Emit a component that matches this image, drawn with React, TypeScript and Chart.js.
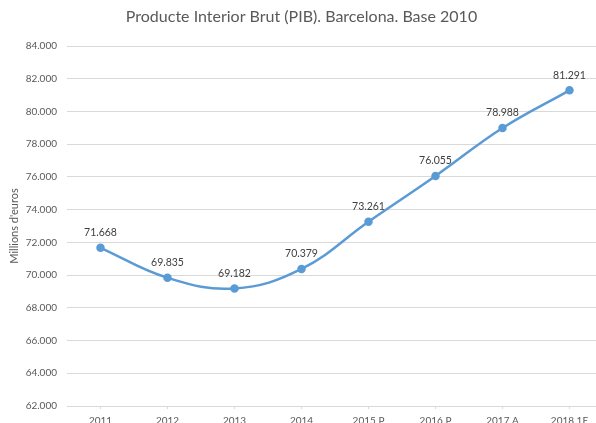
import React, { useEffect, useRef } from "react";
import { Chart, registerables } from "chart.js";

Chart.register(...registerables);

const categories = ["2011", "2012", "2013", "2014", "2015 P", "2016 P", "2017 A", "2018 1E"];
const pibValues = [71668, 69835, 69182, 70379, 73261, 76055, 78988, 81291];
const yMin = 62000;
const yMax = 84000;
const yStep = 2000;

const fmt = (v: number) => {
  const s = Math.round(v).toString();
  return s.replace(/\B(?=(\d{3})+(?!\d))/g, ".");
};

const FONT = "Lato, 'Open Sans', sans-serif";

const labelPlugin = {
  id: "pointLabels",
  afterDatasetsDraw(chart: any) {
    const ctx = chart.ctx;
    const meta = chart.getDatasetMeta(0);
    ctx.save();
    ctx.font = `10.5px ${FONT}`;
    ctx.fillStyle = "#404040";
    ctx.textAlign = "center";
    ctx.textBaseline = "middle";
    meta.data.forEach((pt: any, i: number) => {
      ctx.fillText(fmt(pibValues[i]), pt.x, pt.y - 15);
    });
    ctx.restore();
  },
};

export default function App() {
  const ref = useRef<HTMLCanvasElement>(null);
  useEffect(() => {
    if (!ref.current) return;
    const chart = new Chart(ref.current, {
      type: "line",
      data: {
        labels: categories,
        datasets: [
          {
            data: pibValues,
            borderColor: "#5B9BD5",
            backgroundColor: "#5B9BD5",
            borderWidth: 2.5,
            pointRadius: 3,
            pointBackgroundColor: "#5B9BD5",
            pointBorderColor: "#5B9BD5",
            tension: 0.4,
            fill: false,
          },
        ],
      },
      options: {
        responsive: false,
        animation: false,
        layout: { padding: { top: 0, right: 7, bottom: 1, left: 0 } },
        plugins: {
          legend: { display: false },
          tooltip: { enabled: false },
          title: {
            display: true,
            text: "Producte Interior Brut (PIB). Barcelona. Base 2010",
            color: "#595959",
            font: { family: FONT, size: 16, weight: "normal" },
            padding: { top: 7, bottom: 19.8 },
          },
        },
        scales: {
          x: {
            offset: true,
            grid: {
              drawOnChartArea: false,
              drawTicks: true,
              tickLength: 3,
              color: "#d9d9d9",
            },
            border: { display: true, color: "#d9d9d9", width: 1 },
            ticks: {
              color: "#595959",
              font: { family: FONT, size: 10 },
              padding: 6,
              maxRotation: 0,
              autoSkip: false,
            },
          },
          y: {
            min: yMin,
            max: yMax,
            afterFit: (scale: any) => {
              scale.width = 67;
            },
            grid: { color: "#d9d9d9", drawTicks: false, lineWidth: 1 },
            border: { display: false },
            ticks: {
              stepSize: yStep,
              color: "#595959",
              font: { family: FONT, size: 10 },
              padding: 10,
              callback: (v: any) => fmt(Number(v)),
            },
            title: {
              display: true,
              text: "Millions d'euros",
              color: "#595959",
              font: { family: FONT, size: 11 },
              padding: { top: 8, bottom: 0 },
            },
          },
        },
      },
      plugins: [labelPlugin],
    });
    return () => chart.destroy();
  }, []);

  return (
    <div
      style={{
        position: "fixed",
        left: 0,
        top: 0,
        width: 596,
        height: 423,
        overflow: "hidden",
        background: "#fff",
      }}
    >
      <canvas ref={ref} width={610} height={434} style={{ width: 610, height: 434, display: "block" }} />
    </div>
  );
}
